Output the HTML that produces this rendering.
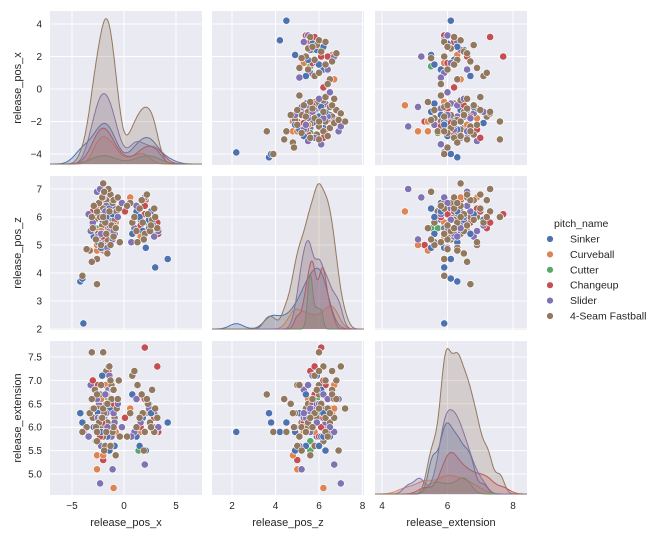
<!DOCTYPE html>
<html><head><meta charset="utf-8">
<style>
html,body{margin:0;padding:0;background:#fff;}
svg{display:block;font-family:"Liberation Sans",sans-serif;}
</style></head>
<body>
<svg id="chart" width="659" height="540" viewBox="0 0 659 540" xmlns="http://www.w3.org/2000/svg"></svg>
<script>
const pitchNames = ["Sinker","Curveball","Cutter","Changeup","Slider","4-Seam Fastball"];
const pitchColors = ["#4c72b0","#dd8452","#55a868","#c44e52","#8172b3","#937860"];
const varNames = ["release_pos_x","release_pos_z","release_extension"];
const ticksX = [-5,0,5];
const ticksZ = [2,3,4,5,6,7];
const ticksZx = [2,4,6,8];
const ticksE = [5.0,5.5,6.0,6.5,7.0,7.5];
const ticksEx = [4,6,8];
// pitch type index: 0 Sinker,1 Curveball,2 Cutter,3 Changeup,4 Slider,5 Fastball
const pitchType = [
5,5,5,5,5,5,5,5,5,5,5,5,5,5,5,5,5,5,5,5,5,5,5,5,5,5,5,5,5,5,5,5,5,5,5,5,5,5,5,5,5,5,5,5,5,5,
4,4,4,4,4,4,4,4,4,4,4,4,4,4,4,4,4,4,4,4,4,4,
0,0,0,0,0,0,0,0,0,0,0,0,0,0,0,0,
3,3,3,3,3,3,3,3,3,3,3,
1,1,1,1,1,1,1,1,
2,2,2,
5,5,5,5,5,5,5,5,5,5,5,5,5,5,5,5,5,5,5,
4,4,4,4,4,4,4,4,4,
0,0,0,0,0,0,0,0,0,0,
3,3,3,3,3,3,3,
1,1,1,
2,2,2];
const releasePosX = [
-1.8,-1.5,-2.1,-1.2,-2.5,-1.7,-0.9,-2.0,-1.4,-2.8,-1.6,-1.1,-2.3,-1.9,-0.7,-3.0,-1.3,-2.6,-1.0,-2.2,-1.5,-1.8,-0.5,-2.4,-1.2,-3.1,-2.0,-1.7,-0.8,-2.7,-1.4,-2.1,-1.0,-1.6,-3.3,-3.6,-2.6,-3.1,-4.0,-2.6,-2.0,-0.4,-1.9,-1.3,-0.6,-2.9,
-1.9,-2.4,-1.5,-2.8,-1.2,-3.2,-1.7,-2.2,-0.9,-2.6,-1.4,-2.0,-3.0,-1.0,-2.3,-1.1,-1.8,-2.5,-3.4,-1.6,-0.6,-2.2,
-1.8,-2.4,-1.3,-2.9,-1.6,-2.1,-0.9,-3.0,-1.4,-2.5,-4.2,-4.0,-3.9,-1.1,-2.2,-1.7,
-1.9,-2.5,-1.5,-2.8,-1.2,-2.0,-1.7,-2.3,-1.0,-3.0,-2.1,
-1.8,-2.6,-1.4,-2.2,-0.8,-2.0,-2.6,-1.0,
-1.9,-2.7,-1.3,
1.8,2.3,1.2,2.7,1.5,2.0,3.0,0.8,2.5,1.7,2.9,0.6,1.3,2.2,3.2,1.9,0.3,1.0,2.6,
1.6,2.4,1.0,2.9,3.3,0.7,-0.2,1.2,2.0,
1.8,2.4,1.2,2.8,2.1,3.0,4.2,1.5,0.8,2.6,
2.0,1.6,2.9,3.3,0.1,2.0,3.2,
2.1,1.6,0.6,
2.4,1.4,2.8];
const releasePosZ = [
6.1,6.4,5.7,6.0,5.4,6.6,5.9,6.3,5.5,5.9,5.2,6.5,6.0,4.9,6.2,5.6,6.8,6.2,5.3,5.0,7.0,5.8,6.3,6.5,5.7,6.0,7.2,5.4,5.6,5.2,6.2,6.7,6.6,4.7,4.8,4.85,4.5,4.4,3.9,3.6,6.0,5.1,6.9,5.0,6.7,6.4,
6.0,5.6,5.3,6.1,5.9,5.5,6.4,5.1,6.3,6.9,5.7,6.7,5.8,5.5,7.0,5.2,6.2,5.3,6.1,4.9,6.0,5.4,
5.5,6.2,5.8,5.3,6.5,5.9,5.4,5.7,6.3,5.1,3.7,3.8,2.2,6.1,4.9,6.0,
6.6,6.3,5.6,5.5,6.1,5.0,5.8,6.0,5.7,6.2,5.3,
6.7,4.8,6.3,5.5,5.8,4.8,5.0,6.2,
6.1,5.6,5.9,
5.8,6.1,5.5,5.9,6.3,5.4,6.0,5.8,5.5,6.6,6.3,6.5,5.1,6.8,5.6,5.2,6.4,6.0,5.7,
5.9,5.6,5.6,5.3,5.5,5.1,6.5,6.4,6.7,
5.5,5.9,6.2,5.7,4.9,4.2,4.5,6.0,5.4,6.2,
6.4,5.7,5.6,5.4,6.2,6.1,5.8,
6.6,5.3,6.7,
5.7,5.6,5.5];
const releaseExt = [
6.3,6.6,6.0,6.9,6.4,7.2,6.2,5.8,6.5,6.8,6.1,5.9,6.7,6.3,6.4,6.2,7.0,5.7,6.0,6.9,7.3,5.6,7.0,6.1,6.6,7.6,6.4,5.9,5.4,6.0,7.3,6.2,6.8,6.5,6.3,6.0,5.9,6.6,5.9,6.7,7.6,5.8,5.5,5.6,6.6,6.4,
6.2,6.5,6.8,6.0,5.8,6.9,6.3,5.6,6.1,6.6,7.1,5.9,6.4,6.3,4.8,5.1,6.7,6.2,5.8,6.0,6.5,6.2,
6.1,6.7,6.4,6.0,5.8,7.1,5.6,6.6,5.5,6.3,6.3,6.1,5.9,6.8,5.9,6.5,
6.4,6.9,7.2,6.2,6.0,5.3,6.7,5.8,6.5,7.0,6.1,
6.9,5.4,6.0,6.6,5.9,5.4,5.1,4.7,
6.3,5.7,6.6,
6.3,6.5,6.0,6.8,6.2,5.9,6.4,7.1,6.1,6.7,5.9,6.3,6.9,6.6,6.2,5.5,5.8,7.2,6.0,
6.1,6.4,5.9,6.3,6.0,5.8,6.0,6.6,5.2,
6.2,6.5,5.8,6.0,5.5,5.9,6.1,5.6,6.7,6.3,
6.6,6.0,6.2,5.9,6.2,7.7,7.3,
6.3,5.9,6.4,
6.5,5.5,6.0];

const NS="http://www.w3.org/2000/svg";
const svg=document.getElementById('chart');
function mk(tag,attrs,parent){const e=document.createElementNS(NS,tag);for(const k in attrs)e.setAttribute(k,attrs[k]);(parent||svg).appendChild(e);return e;}

const colL=[50,212,375], colW=152;
const rowT=[11,176,341], rowH=154;
const xAxis=[v=>124+v*10.4, v=>232+(v-2)*21.75, v=>382+(v-4)*32.75];
const yAxis=[v=>24+(4-v)*16.25, v=>189+(7-v)*28, v=>357+(7.5-v)*46.8];
const xRange=[[-7.1,7.5],[1.08,8.05],[3.78,8.42]];
const colTicks=[ticksX,ticksZx,ticksEx];
const rowTicks=[[4,2,0,-2,-4],ticksZ,ticksE];
const data=[releasePosX,releasePosZ,releaseExt];
function fmt(v,dec){let s=dec?v.toFixed(1):String(v);return s.replace('-','\u2212');}

const order=[];
const groups=[[],[],[],[],[],[]];
pitchType.forEach((t,i)=>groups[t].push(i));
let more=true,k=0;
while(more){more=false;for(let g=5;g>=0;g--){if(k<groups[g].length){order.push(groups[g][k]);more=true;}}k++;}

for(let r=0;r<3;r++){
  for(let c=0;c<3;c++){
    const g=mk('g',{},svg);
    
    
    const bg=mk('rect',{x:colL[c],y:rowT[r],width:colW,height:rowH,fill:'#eaeaf2'},g);
    
    
    const cp='clip'+r+c;
    const cl=mk('clipPath',{id:cp},g);mk('rect',{x:colL[c],y:rowT[r],width:colW,height:rowH},cl);
    colTicks[c].forEach(t=>{const x=xAxis[c](t);mk('line',{x1:x,x2:x,y1:rowT[r],y2:rowT[r]+rowH,stroke:'#fff','stroke-width':1},g);});
    rowTicks[r].forEach(t=>{const y=yAxis[r](t);if(y>=rowT[r]&&y<=rowT[r]+rowH)mk('line',{x1:colL[c],x2:colL[c]+colW,y1:y,y2:y,stroke:'#fff','stroke-width':1},g);});
    const inner=mk('g',{'clip-path':'url(#'+cp+')'},g);
    if(r===c){
      const vals=data[c], N=vals.length;
      const [lo,hi]=xRange[c];
      const steps=240;
      const curves=[];let maxD=0;
      for(let h=0;h<6;h++){
        const hv=groups[h].map(i=>vals[i]);const n=hv.length;
        const m=hv.reduce((a,b)=>a+b,0)/n;
        const sd=Math.sqrt(hv.reduce((a,b)=>a+(b-m)*(b-m),0)/(n-1));
        const bw=0.6*sd*Math.pow(n,-0.2);
        const pts=[];
        for(let s=0;s<=steps;s++){
          const x=lo+(hi-lo)*s/steps;let d=0;
          hv.forEach(v=>{const z=(x-v)/bw;d+=Math.exp(-0.5*z*z);});
          d=d/(n*bw*Math.sqrt(2*Math.PI))*(n/N);
          pts.push([x,d]);if(d>maxD)maxD=d;
        }
        curves.push(pts);
      }
      const base=rowT[r]+rowH-1, sc=(rowH-1)*0.95/maxD;
      for(let h=0;h<6;h++){
        const pts=curves[h];
        let dStr=pts.map((p,i)=>(i?'L':'M')+xAxis[c](p[0]).toFixed(1)+','+(base-p[1]*sc).toFixed(1)).join('');
        const f=mk('path',{d:dStr+'L'+xAxis[c](hi).toFixed(1)+','+base+'L'+xAxis[c](lo).toFixed(1)+','+base+'Z',fill:pitchColors[h],'fill-opacity':0.25,stroke:'none'},inner);
        
        
        const l=mk('path',{d:dStr,fill:'none',stroke:pitchColors[h],'stroke-width':1},inner);
        
        
      }
    } else {
      order.forEach(i=>{
        const p=mk('circle',{cx:xAxis[c](data[c][i]).toFixed(1),cy:yAxis[r](data[r][i]).toFixed(1),r:3.6,fill:pitchColors[pitchType[i]],stroke:'#fff','stroke-width':0.6},inner);
        
        
      });
    }
  }
}
for(let r=0;r<3;r++){
  rowTicks[r].forEach(t=>{const y=yAxis[r](t);const tx=mk('text',{x:42,y:y+3.5,'text-anchor':'end','font-size':10,fill:'#262626'});tx.textContent=fmt(t,r===2);
    
    });
  const cy=rowT[r]+rowH/2;
  const yl=mk('text',{x:0,y:0,transform:'translate(21,'+cy+') rotate(-90)','text-anchor':'middle','font-size':11,fill:'#262626'});
  yl.textContent=varNames[r];
  
  
}
for(let c=0;c<3;c++){
  colTicks[c].forEach(t=>{const x=xAxis[c](t);const tx=mk('text',{x:x,y:509,'text-anchor':'middle','font-size':10,fill:'#262626'});tx.textContent=fmt(t,false);
    
    });
  const xl=mk('text',{x:colL[c]+colW/2,y:526,'text-anchor':'middle','font-size':11,fill:'#262626'});
  xl.textContent=varNames[c];
  
  
}
const lg=mk('g',{},svg);


const lt=mk('text',{x:554,y:227,'font-size':10.5,fill:'#262626'},lg);lt.textContent='pitch_name';


pitchNames.forEach((n,i)=>{
  const y=239+i*15.4;
  const e=mk('g',{},lg);
  
  
  mk('circle',{cx:550,cy:y,r:3.4,fill:pitchColors[i],stroke:'#fff','stroke-width':0.6},e);
  const t=mk('text',{x:570,y:y+3.5,'font-size':10.5,fill:'#262626'},e);t.textContent=n;
});
</script>
</body></html>
